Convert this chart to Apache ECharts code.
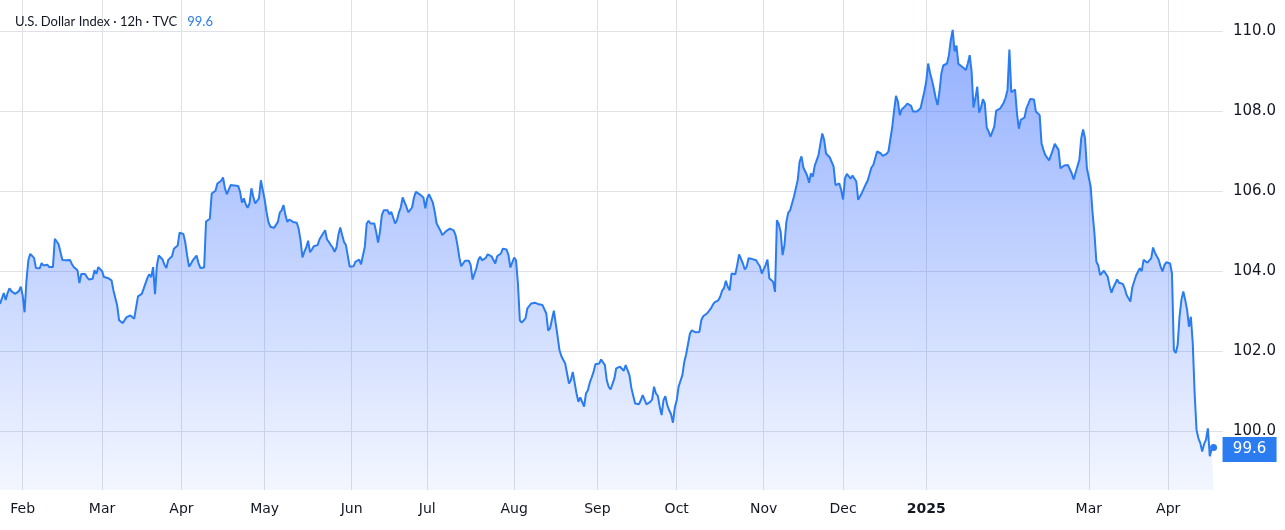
<!DOCTYPE html>
<html>
<head>
<meta charset="utf-8">
<script src="https://cdn.jsdelivr.net/npm/echarts/dist/echarts.min.js"></script>
<style>
html,body{margin:0;padding:0;background:#fff;}
#chart{width:1285px;height:530px;}
</style>
</head>
<body>
<div id="chart"></div>
<script>
// ---- data (12h bars, two per weekday, starting 2024-01-24) ----
const startDate = '2024-01-24';
const weekdayCount = 324;
const title = 'U.S. Dollar Index · 12h · TVC';
const lastLabel = '99.6';
const tickDates = ['2024-02-01','2024-03-01','2024-04-01','2024-05-01','2024-06-03','2024-07-01','2024-08-01','2024-09-02','2024-10-01','2024-11-01','2024-12-02','2025-01-01','2025-03-03','2025-04-01'];
const tickLabels = ['Feb','Mar','Apr','May','Jun','Jul','Aug','Sep','Oct','Nov','Dec','2025','Mar','Apr'];
const priceTicks = [100,102,104,106,108,110];
const values = [
103.19,103.23,103.46,103.29,103.46,103.58,103.51,103.47,103.44,103.42,
103.51,103.62,103.4,102.98,103.78,104.28,104.44,104.46,104.34,104.09,
104.07,104.08,104.21,104.15,104.11,104.17,104.11,104.11,104.11,104.82,
104.82,104.68,104.48,104.29,104.28,104.28,104.28,104.29,104.19,104.11,
104.11,104.03,103.71,103.94,103.96,103.94,103.86,103.8,103.75,103.82,
104.03,103.94,104.11,104.12,104.01,103.86,103.84,103.84,103.86,103.78,
103.53,103.34,103.15,102.78,102.73,102.71,102.79,102.86,102.83,102.9,
102.93,102.82,102.86,103.38,103.4,103.44,103.57,103.61,103.84,103.93,
103.86,104.11,103.43,104.15,104.4,104.4,104.3,104.17,104.09,104.29,
104.29,104.38,104.57,104.53,104.65,104.97,104.97,104.94,104.73,104.4,
104.12,104.19,104.28,104.34,104.4,104.21,104.09,104.09,104.1,105.25,
105.28,105.32,105.95,105.99,106.02,106.2,106.18,106.27,106.35,106.08,
105.93,105.98,106.16,106.16,106.15,106.16,106.14,105.99,105.72,105.83,
105.68,105.59,105.7,106.08,105.87,105.7,105.68,105.83,106.28,106.3,
105.8,105.49,105.24,105.12,105.07,105.09,105.1,105.24,105.47,105.53,
105.66,105.41,105.24,105.3,105.28,105.24,105.22,105.22,105.07,104.78,
104.35,104.49,104.6,104.77,104.48,104.55,104.63,104.58,104.66,104.8,
104.88,104.85,105.03,104.8,104.74,104.66,104.6,104.49,104.6,104.91,
105.1,104.91,104.74,104.66,104.68,104.12,104.08,104.13,104.24,104.28,
104.3,104.18,104.13,104.62,105.2,105.27,105.2,105.18,105.2,104.99,
104.72,104.99,105.41,105.53,105.55,105.53,105.43,105.49,105.35,105.2,
105.28,105.47,105.6,105.85,105.85,105.62,105.48,105.48,105.6,105.85,
105.99,105.99,105.93,105.89,105.85,105.58,105.83,105.93,105.91,105.72,
105.49,105.2,105.16,105.02,104.91,104.93,105.01,105.02,105.07,105.12,
105.03,104.91,104.66,104.35,104.13,104.08,104.27,104.28,104.27,104.16,
103.8,103.81,104.08,104.28,104.37,104.28,104.28,104.34,104.43,104.47,
104.38,104.33,104.2,104.38,104.37,104.45,104.57,104.58,104.55,104.41,
104.1,104.08,104.35,104.28,103.7,102.78,102.72,102.7,102.83,103.08,
103.12,103.2,103.16,103.22,103.2,103.18,103.2,103.16,103.16,102.95,
102.52,102.58,102.62,103.02,102.7,102.37,102.03,101.88,101.84,101.7,
101.45,101.2,101.28,101.49,101.45,100.95,100.74,100.85,100.87,100.62,
100.95,101.03,101.22,101.35,101.49,101.68,101.67,101.7,101.8,101.8,
101.66,101.28,101.12,101.05,101.03,101.32,101.58,101.63,101.62,101.6,
101.52,101.66,101.7,101.41,101.09,101.09,100.7,100.66,100.68,100.78,
100.91,100.91,100.68,100.63,100.74,100.8,101.12,100.95,100.89,100.62,
100.41,100.78,100.88,100.66,100.53,100.43,100.22,100.6,100.78,101.12,
101.27,101.41,101.74,101.93,101.91,102.45,102.53,102.52,102.48,102.43,
102.49,102.78,102.88,102.91,102.95,102.98,103.07,103.16,103.23,103.21,
103.28,103.37,103.52,103.58,103.77,103.62,103.53,103.95,103.97,103.93,
104.16,104.43,104.38,104.2,104.05,104.12,104.33,104.28,104.31,104.33,
104.28,104.2,104.13,103.95,103.91,104.16,104.3,103.83,103.88,103.74,
103.49,105.28,105.18,104.99,104.41,104.66,105.24,105.47,105.53,105.58,
105.87,105.91,106.28,106.74,106.88,106.6,106.65,106.4,106.22,106.45,
106.37,106.64,106.69,106.91,107.19,107.45,107.29,106.95,106.9,106.85,
106.85,106.62,106.16,106.2,106.2,106.04,105.8,106.33,106.44,106.4,
106.32,106.4,106.41,106.25,105.79,105.79,105.97,106.02,106.18,106.27,
106.43,106.6,106.66,106.62,107.0,107.01,106.95,106.89,106.87,106.94,
107.0,106.95,107.6,108.02,108.39,108.25,107.91,108.05,108.1,108.14,
108.2,108.15,108.14,108.0,107.97,108.0,108.04,108.08,108.08,108.5,
108.75,109.2,108.97,108.79,108.58,108.34,108.16,108.5,108.95,109.15,
109.16,109.2,109.41,109.79,110.04,109.5,109.65,109.19,109.15,109.12,
109.1,109.04,109.2,109.41,109.0,108.1,108.33,108.62,107.97,108.1,
108.31,108.2,107.6,107.5,107.37,107.37,107.62,108.02,108.04,108.07,
108.08,108.22,108.35,108.54,109.55,108.48,108.45,108.55,107.95,107.57,
107.79,107.79,107.85,108.08,108.19,108.31,108.35,108.3,108.0,107.98,
107.91,107.2,107.04,106.91,106.87,106.78,106.83,107.04,107.19,107.16,
107.04,106.58,106.58,106.65,106.61,106.66,106.69,106.45,106.3,106.47,
106.51,106.79,107.33,107.55,107.33,106.58,106.54,106.12,105.46,104.95,
104.25,104.15,103.91,103.87,104.02,103.99,103.87,103.64,103.47,103.6,
103.65,103.8,103.72,103.75,103.69,103.58,103.41,103.39,103.25,103.6,
103.64,103.9,103.89,104.08,104.01,104.29,104.31,104.22,104.26,104.33,
104.6,104.47,104.49,104.29,104.12,104.0,104.16,104.23,104.23,104.2,
103.95,102.04,101.96,102.16,102.87,103.29,103.5,103.29,103.04,102.62,
102.87,102.2,100.95,100.04,99.83,99.71,99.5,99.69,99.79,100.08,
99.38,99.56,99.6
];

// ---- categories: two 12h bars per weekday ----
const categories = [];
(function(){
  const d = new Date(startDate + 'T00:00:00Z');
  let n = 0;
  while (n < weekdayCount) {
    const wd = d.getUTCDay();
    if (wd !== 0 && wd !== 6) {
      const s = d.toISOString().slice(0,10);
      categories.push(s);
      categories.push(s + ' 12:00');
      n++;
    }
    d.setUTCDate(d.getUTCDate() + 1);
  }
})();
const labelMap = {};
tickDates.forEach((d,i)=>{ labelMap[d] = tickLabels[i]; });
const isTick = (idx, val) => Object.prototype.hasOwnProperty.call(labelMap, val);

const lineColor = '#2a7cf0';
const textColor = '#131722';
const gridColor = '#dfe1e6';
const lastIdx = values.length - 1;
const lastVal = values[lastIdx];

const chart = echarts.init(document.getElementById('chart'), null, {renderer:'canvas'});
chart.setOption({
  animation: false,
  backgroundColor: '#ffffff',
  title: {
    left: 10, top: 8,
    text: '{a|' + title + '}  {b|' + lastLabel + '}',
    textStyle: {
      fontWeight: 'normal',
      rich: {
        a: {fontFamily: 'Lato', fontSize: 13, fontWeight: 'normal', color: textColor},
        b: {fontFamily: 'Lato', fontSize: 13, fontWeight: 'normal', color: lineColor}
      }
    }
  },
  grid: {left: 0, right: 62, top: 0, bottom: 40, containLabel: false},
  xAxis: {
    type: 'category',
    data: categories,
    boundaryGap: false,
    axisLine: {show: false},
    axisTick: {show: false},
    axisLabel: {
      interval: isTick,
      margin: 12,
      fontFamily: 'DejaVu Sans',
      fontSize: 14,
      color: textColor,
      formatter: function(val){
        const l = labelMap[val] || '';
        return /^\d{4}$/.test(l) ? '{y|' + l + '}' : l;
      },
      rich: {y: {fontFamily: 'DejaVu Sans', fontSize: 14, fontWeight: 'bold', color: textColor}}
    },
    splitLine: {show: true, interval: isTick, lineStyle: {color: gridColor, width: 1}}
  },
  yAxis: {
    type: 'value',
    position: 'right',
    min: 98.5375,
    max: 110.7875,
    axisLine: {show: false},
    axisTick: {show: false, customValues: priceTicks},
    axisLabel: {
      customValues: priceTicks,
      margin: 10,
      fontFamily: 'DejaVu Sans',
      fontSize: 15,
      color: textColor,
      formatter: v => Number(v).toFixed(1)
    },
    splitLine: {show: true, lineStyle: {color: gridColor, width: 1}}
  },
  series: [{
    type: 'line',
    data: values,
    showSymbol: false,
    symbol: 'none',
    lineStyle: {color: lineColor, width: 2},
    areaStyle: {
      color: new echarts.graphic.LinearGradient(0, 0, 0, 1, [
        {offset: 0, color: 'rgba(41,98,255,0.72)'},
        {offset: 1, color: 'rgba(41,98,255,0.08)'}
      ])
    },
    markPoint: {
      silent: true,
      data: [
        {coord: [lastIdx, lastVal], symbol: 'circle', symbolSize: 7,
         itemStyle: {color: lineColor}, label: {show: false}},
        {coord: [lastIdx, lastVal], symbol: 'rect', symbolSize: [54, 25], symbolOffset: [36, 2],
         itemStyle: {color: lineColor},
         label: {show: true, position: 'inside', formatter: lastLabel, color: '#ffffff',
                 fontFamily: 'DejaVu Sans', fontSize: 15}}
      ]
    }
  }]
});
</script>
</body>
</html>
